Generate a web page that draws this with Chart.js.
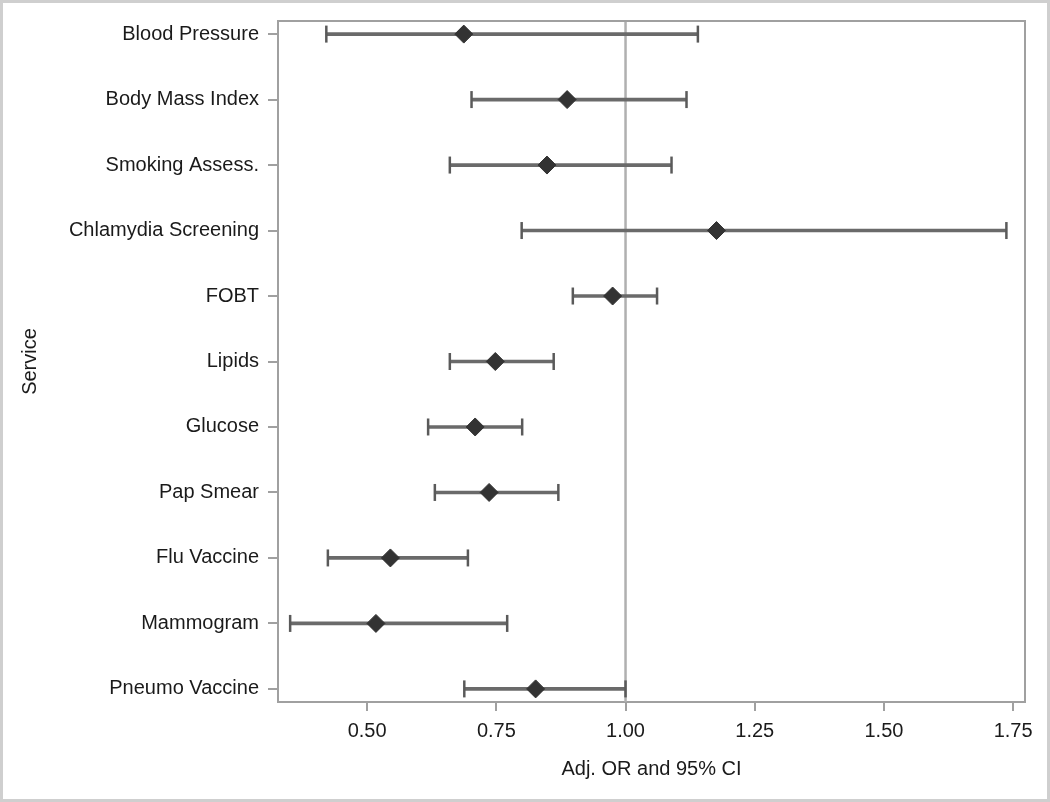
<!DOCTYPE html>
<html>
<head>
<meta charset="utf-8">
<script src="https://cdn.jsdelivr.net/npm/chart.js@4"></script>
<style>
  html, body { margin: 0; padding: 0; background: #fff; }
  canvas { display: block; }
</style>
</head>
<body>
<canvas id="forestChart" width="1050" height="802"></canvas>
<script>
// services, top to bottom
const categories = ['Blood Pressure', 'Body Mass Index', 'Smoking Assess.', 'Chlamydia Screening', 'FOBT',
    'Lipids', 'Glucose', 'Pap Smear', 'Flu Vaccine', 'Mammogram', 'Pneumo Vaccine'];
const oddsRatio = [0.687, 0.887, 0.848, 1.176, 0.975, 0.748, 0.709, 0.736, 0.545, 0.517, 0.826];
const ciLow = [0.421, 0.702, 0.660, 0.799, 0.898, 0.660, 0.618, 0.631, 0.424, 0.351, 0.688];
const ciHigh = [1.140, 1.118, 1.089, 1.737, 1.061, 0.861, 0.800, 0.870, 0.695, 0.771, 1.000];
const xTickValues = [0.50, 0.75, 1.00, 1.25, 1.50, 1.75];
const refValue = 1.00;

const FONT = "'Liberation Sans', Arial, sans-serif";

// frame, reference line and outer border
const framePlugin = {
    id: 'frame',
    beforeDraw(chart) {
        const c = chart.ctx;
        c.save();
        c.fillStyle = '#fff';
        c.fillRect(0, 0, chart.width, chart.height);
        c.strokeStyle = '#cfcfcf';
        c.lineWidth = 3;
        c.strokeRect(1.5, 1.5, chart.width - 3, chart.height - 3);
        c.restore();
    },
    beforeDatasetsDraw(chart) {
        const c = chart.ctx;
        const a = chart.chartArea;
        const xr = chart.scales.x.getPixelForValue(refValue);
        c.save();
        c.strokeStyle = '#b0b0b0';
        c.lineWidth = 2.5;
        c.beginPath();
        c.moveTo(xr, a.top);
        c.lineTo(xr, a.bottom);
        c.stroke();
        c.strokeStyle = '#a0a0a0';
        c.lineWidth = 2;
        c.beginPath();
        c.moveTo(a.left, a.top);
        c.lineTo(a.right, a.top);
        c.lineTo(a.right, a.bottom);
        c.stroke();
        c.restore();
    }
};

const ctx = document.getElementById('forestChart').getContext('2d');
new Chart(ctx, {
    type: 'scatter',
    data: {
        datasets: [
            {
                type: 'bar',
                indexAxis: 'y',
                data: categories.map((c, i) => ({ y: i, x: [ciLow[i], ciHigh[i]] })),
                backgroundColor: '#6a6a6a',
                borderWidth: 0,
                barThickness: 3,
                order: 3
            },
            {
                data: categories.flatMap((c, i) => [{ x: ciLow[i], y: i }, { x: ciHigh[i], y: i }]),
                pointStyle: 'line',
                rotation: 90,
                radius: 8.5,
                borderColor: '#5a5a5a',
                borderWidth: 2.5,
                showLine: false,
                order: 2
            },
            {
                data: categories.map((c, i) => ({ x: oddsRatio[i], y: i })),
                pointStyle: 'rectRot',
                radius: 9,
                backgroundColor: '#333333',
                borderColor: '#333333',
                borderWidth: 1,
                showLine: false,
                order: 1
            }
        ]
    },
    options: {
        responsive: false,
        animation: false,
        layout: { padding: { top: 19, right: 25, left: 0, bottom: 0 } },
        plugins: {
            legend: { display: false },
            tooltip: { enabled: false }
        },
        scales: {
            x: {
                type: 'linear',
                position: 'bottom',
                offset: false,
                min: 0.3275,
                max: 1.773,
                afterBuildTicks: (scale) => { scale.ticks = xTickValues.map(v => ({ value: v })); },
                afterFit: (scale) => { scale.height = 100; },
                ticks: {
                    callback: (v) => Number(v).toFixed(2),
                    color: '#1a1a1a',
                    font: { family: FONT, size: 20 },
                    padding: 8
                },
                grid: { offset: false, drawOnChartArea: false, drawTicks: true, tickLength: 9, color: '#a0a0a0', lineWidth: 2 },
                border: { color: '#a0a0a0', width: 2 },
                title: {
                    display: true,
                    text: 'Adj. OR and 95% CI',
                    color: '#1a1a1a',
                    font: { family: FONT, size: 20 },
                    padding: { top: 0, bottom: 21 }
                }
            },
            y: {
                type: 'linear',
                position: 'left',
                reverse: true,
                offset: false,
                min: -0.2,
                max: 10.2,
                afterBuildTicks: (scale) => { scale.ticks = categories.map((c, i) => ({ value: i })); },
                afterFit: (scale) => { scale.width = 278; },
                ticks: {
                    callback: (v) => categories[v],
                    autoSkip: false,
                    color: '#1a1a1a',
                    font: { family: FONT, size: 20 },
                    padding: 9
                },
                grid: { offset: false, drawOnChartArea: false, drawTicks: true, tickLength: 10, color: '#a0a0a0', lineWidth: 2 },
                border: { color: '#a0a0a0', width: 2 },
                title: {
                    display: true,
                    text: 'Service',
                    color: '#1a1a1a',
                    font: { family: FONT, size: 20 },
                    padding: { top: 18, bottom: 0 }
                }
            }
        }
    },
    plugins: [framePlugin]
});
</script>
</body>
</html>
